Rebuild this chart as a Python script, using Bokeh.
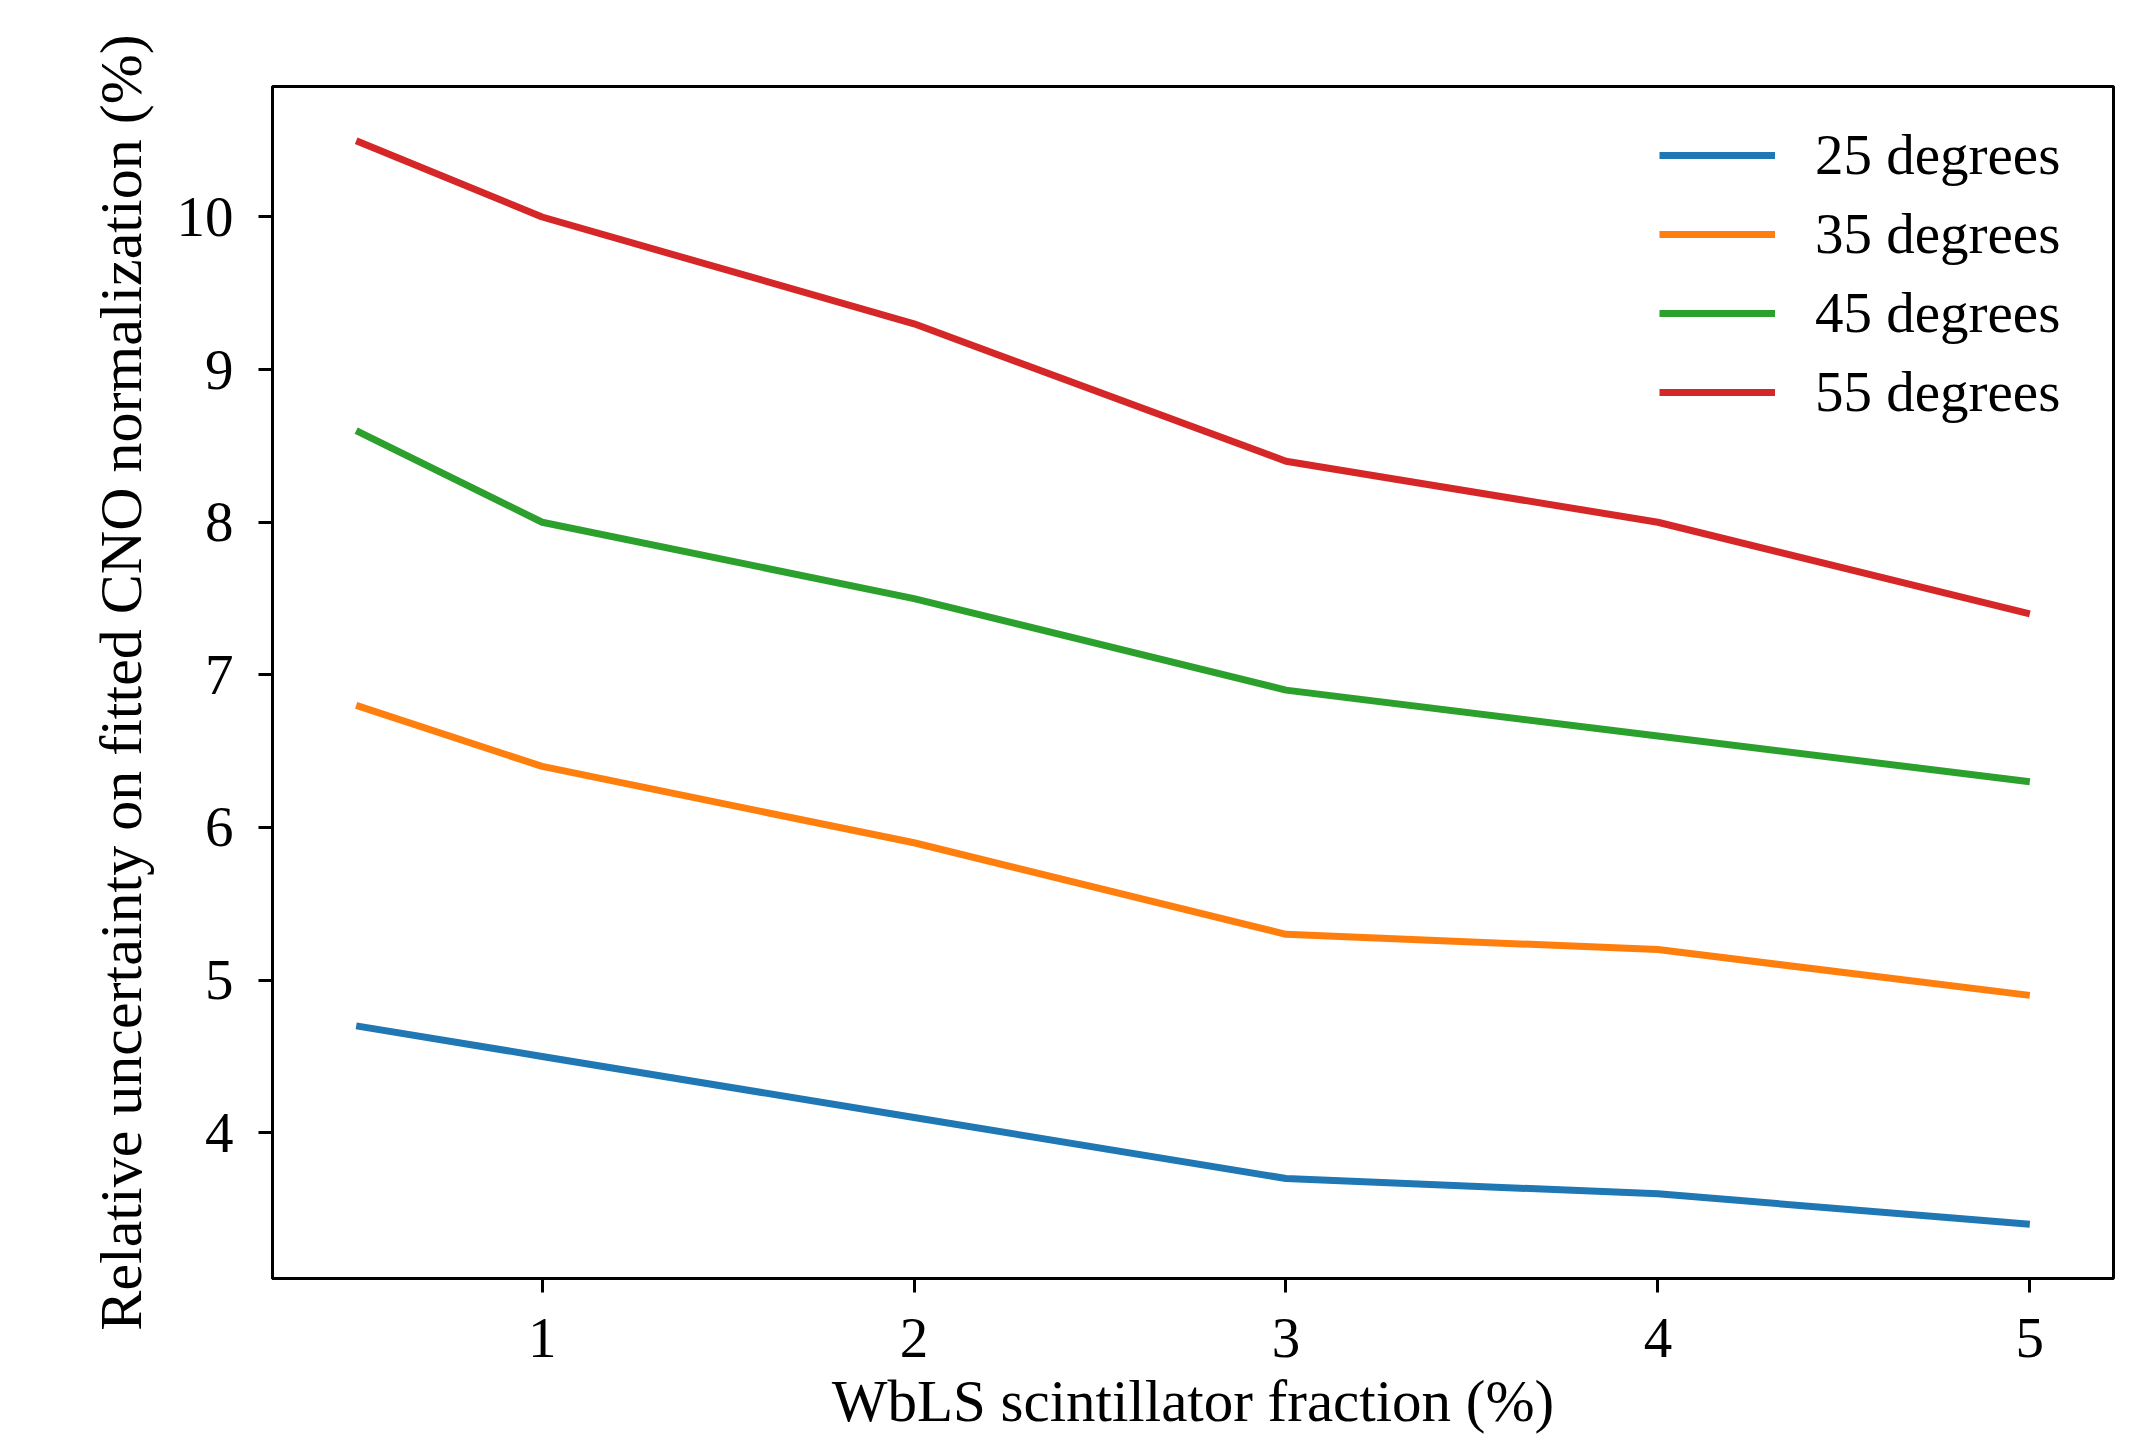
from bokeh.plotting import figure
from bokeh.models import FixedTicker, Legend, LegendItem, Range1d
from bokeh.embed import file_html
from bokeh.resources import INLINE

# ---- data ----
fraction = [0.5, 1, 2, 3, 4, 5]
deg25 = [4.7, 4.5, 4.1, 3.7, 3.6, 3.4]
deg35 = [6.8, 6.4, 5.9, 5.3, 5.2, 4.9]
deg45 = [8.6, 8.0, 7.5, 6.9, 6.6, 6.3]
deg55 = [10.5, 10.0, 9.3, 8.4, 8.0, 7.4]
series_names = ["25 degrees", "35 degrees", "45 degrees", "55 degrees"]
series_colors = ["#1f77b4", "#ff7f0e", "#2ca02c", "#d62728"]
x_ticks = [1, 2, 3, 4, 5]
y_ticks = [4, 5, 6, 7, 8, 9, 10]

FONT = "Liberation Serif"
TICK_FS = "57px"
LABEL_FS = "60px"
XLABEL_FS = "59px"

p = figure(
    frame_width=1841, frame_height=1192,
    min_border_left=272, min_border_top=86, min_border_right=13, min_border_bottom=40,
    x_range=Range1d(0.275, 5.225), y_range=Range1d(3.045, 10.855),
    output_backend="svg", toolbar_location=None,
)
p.background_fill_color = "white"
p.border_fill_color = "white"
p.outline_line_color = "black"
p.outline_line_width = 3
p.grid.visible = False

items = []
for name, col, ys in zip(series_names, series_colors, [deg25, deg35, deg45, deg55]):
    r = p.line(fraction, ys, line_color=col, line_width=7)
    items.append(LegendItem(label=name, renderers=[r]))

legend = Legend(items=items, location="top_right")
legend.border_line_alpha = 0
legend.background_fill_alpha = 0
legend.label_text_font = FONT
legend.label_text_font_size = TICK_FS
legend.label_text_color = "black"
legend.glyph_width = 116
legend.glyph_height = 60
legend.label_height = 60
legend.label_width = 262
legend.label_standoff = 40
legend.spacing = 14
legend.padding = 36
legend.margin = 0
p.add_layout(legend)

p.xaxis.ticker = FixedTicker(ticks=x_ticks)
p.yaxis.ticker = FixedTicker(ticks=y_ticks)
p.xaxis.axis_label = "WbLS scintillator fraction (%)"
p.yaxis.axis_label = "Relative uncertainty on fitted CNO normalization (%)"
for ax in (p.xaxis[0], p.yaxis[0]):
    ax.axis_label_text_font = FONT
    ax.axis_label_text_font_size = LABEL_FS
    ax.axis_label_text_font_style = "normal"
    ax.major_label_text_font = FONT
    ax.major_label_text_font_size = TICK_FS
    ax.major_label_text_color = "black"
    ax.axis_label_text_color = "black"
    ax.axis_line_color = "black"
    ax.axis_line_width = 3
    ax.major_tick_line_color = "black"
    ax.major_tick_line_width = 3
    ax.major_tick_out = 14
    ax.major_tick_in = 0
    ax.minor_tick_line_color = None
p.xaxis.axis_label_text_font_size = XLABEL_FS
p.xaxis.major_label_standoff = 26
p.xaxis.axis_label_standoff = 8
p.yaxis.major_label_standoff = 25
p.yaxis.axis_label_standoff = 20

open("out.html", "w").write(file_html(p, INLINE))
